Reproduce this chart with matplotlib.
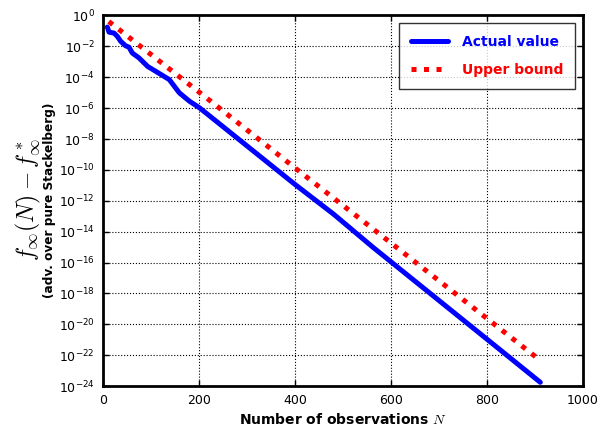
import matplotlib
matplotlib.use("Agg")
import matplotlib.pyplot as plt
import numpy as np

# values (log10 of the gap)
actual_n = [9, 12.5, 23, 30, 37, 47, 54, 61, 75, 93, 110, 138, 159, 180, 201,
            284, 399, 480, 563, 800, 911]
actual_log = [-0.75, -1.08, -1.14, -1.36, -1.68, -1.96, -2.05, -2.43, -2.75, -3.30,
              -3.62, -4.15, -5.01, -5.55, -5.98, -8.05, -10.92, -12.86, -15.03,
              -20.97, -23.76]
bound_n = [12, 225, 399, 605, 901]
bound_log = [-0.39, -5.57, -9.85, -14.86, -22.1]

xticks = [0, 200, 400, 600, 800, 1000]
ytick_exp = list(range(-24, 1, 2))

fig = plt.figure(figsize=(6.0, 4.28), dpi=100, facecolor="white")
ax = fig.add_axes([0.1717, 0.0981, 0.8, 0.8657])

ax.semilogy(actual_n, 10.0 ** np.array(actual_log), color="b", lw=3.6,
            solid_capstyle="round", label="Actual value")
ax.semilogy(bound_n, 10.0 ** np.array(bound_log), color="r", lw=3.6,
            linestyle=(0, (1, 1.5)), label="Upper bound")

ax.set_xlim(0, 1000)
ax.set_ylim(1e-24, 1e0)
ax.set_xticks(xticks)
ax.set_yticks([10.0 ** e for e in ytick_exp])
ax.minorticks_off()
ax.tick_params(direction="in", top=True, right=True, length=4, width=1,
               labelsize=9, pad=6)
for sp in ax.spines.values():
    sp.set_linewidth(2)
ax.grid(True, color="k", linestyle=":", linewidth=0.8)

ax.set_xlabel("Number of observations $N$", fontsize=10, fontweight="bold",
              math_fontfamily="cm", labelpad=3)
fig.text(0.083, 0.533, "(adv. over pure Stackelberg)", rotation=90,
         ha="center", va="center", fontsize=8.7, fontweight="bold")
fig.text(0.047, 0.533, r"$f_\infty(N) - f^*_\infty$", rotation=90,
         ha="center", va="center", fontsize=17, math_fontfamily="cm")

leg = ax.legend(loc="upper right", handlelength=2.7, fancybox=False,
                borderpad=0.85, labelspacing=1.0, borderaxespad=0.55,
                handletextpad=1.0, prop={"weight": "bold", "size": 10})
leg.get_frame().set_edgecolor("k")
leg.get_frame().set_linewidth(1)
for txt, c in zip(leg.get_texts(), ["b", "r"]):
    txt.set_color(c)

fig.savefig("out.png", dpi=100, facecolor="white")
